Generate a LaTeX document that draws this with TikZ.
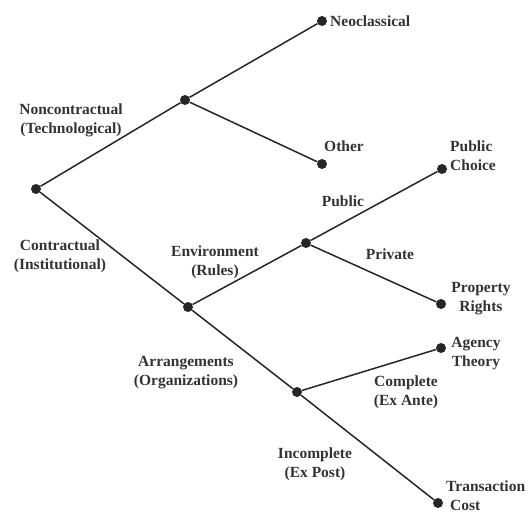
\documentclass[tikz,border=0pt]{standalone}
\usepackage{fontspec}
\setmainfont{Liberation Serif}
\tikzset{
	dot/.style={circle, fill=black!85, inner sep=0pt, minimum size=10pt},
	lbl/.style={font=\fontsize{15.5}{19}\selectfont\bfseries, text=black!80, align=center, inner sep=0pt},
	branch/.style={black!85, line width=1.5pt}
}
\begin{document}
\begin{tikzpicture}[x=1pt, y=-1pt]
		\useasboundingbox (0,0) rectangle (531,513);

		% branch points
		\node[dot] (root) at (36,189) {};
		\node[dot] (tech) at (185,100) {};
		\node[dot] (inst) at (188,307) {};
		\node[dot] (env) at (306,243) {};
		\node[dot] (arr) at (297,392) {};

		% leaves
		\node[dot] (neo) at (322,21) {};
		\node[dot] (other) at (322,164) {};
		\node[dot] (pubch) at (442,169) {};
		\node[dot] (prop) at (441,304) {};
		\node[dot] (agency) at (441,348) {};
		\node[dot] (trans) at (438,503) {};

		\draw[branch] (root) -- (tech);
		\draw[branch] (root) -- (inst);
		\draw[branch] (tech) -- (neo);
		\draw[branch] (tech) -- (other);
		\draw[branch] (inst) -- (env);
		\draw[branch] (inst) -- (arr);
		\draw[branch] (env) -- (pubch);
		\draw[branch] (env) -- (prop);
		\draw[branch] (arr) -- (agency);
		\draw[branch] (arr) -- (trans);

		% branch labels
		\node[lbl] (nonc) at (71,120) {Noncontractual\\(Technological)};
		\node[lbl] (contr) at (60,256) {Contractual\\(Institutional)};
		\node[lbl] (envlbl) at (215,262) {Environment\\(Rules)};
		\node[lbl] (arrlbl) at (186,373) {Arrangements\\(Organizations)};
		\node[lbl] (publbl) at (343,201) {Public};
		\node[lbl] (privlbl) at (390,254) {Private};
		\node[lbl] (complbl) at (406,392) {Complete\\(Ex Ante)};
		\node[lbl] (incomplbl) at (315,464) {Incomplete\\(Ex Post)};

		% leaf labels
		\node[lbl, anchor=west] (neolbl) at (330,21) {Neoclassical};
		\node[lbl] (otherlbl) at (344,146) {Other};
		\node[lbl, anchor=west, align=left] (pubchlbl) at (450,156) {Public\\Choice};
		\node[lbl] (proplbl) at (481,299) {Property\\Rights};
		\node[lbl] (agencylbl) at (476,354) {Agency\\Theory};
		\node[lbl, anchor=west, align=left] (translbl) at (446,496) {Transaction\\\hspace{4pt}Cost};
	\end{tikzpicture}
\end{document}
